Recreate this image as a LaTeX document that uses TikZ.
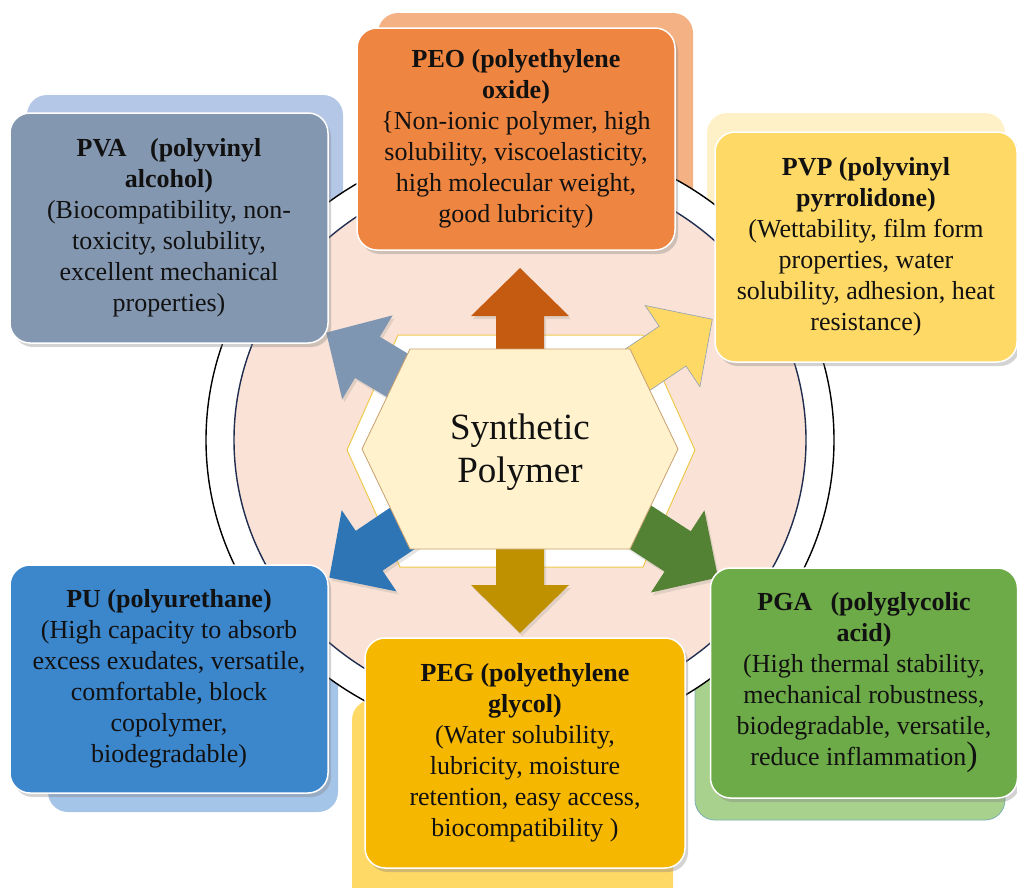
\documentclass[tikz,border=0pt]{standalone}
\usepackage{fontspec}
\setmainfont{Liberation Serif}
\usetikzlibrary{shadows}
\definecolor{bgpeach}{HTML}{FAE3D6}
\definecolor{ringline}{HTML}{1F2D4F}
\definecolor{hexin}{HTML}{FFF2CC}
\definecolor{hexinline}{HTML}{C8A070}
\definecolor{hexoutline}{HTML}{EFC94C}
\definecolor{pvaF}{HTML}{8497B0}
\definecolor{pvaB}{HTML}{B4C7E7}
\definecolor{peoF}{HTML}{EE8540}
\definecolor{peoB}{HTML}{F4B183}
\definecolor{pvpF}{HTML}{FFD966}
\definecolor{pvpB}{HTML}{FEF0C7}
\definecolor{puF}{HTML}{3C86CC}
\definecolor{puB}{HTML}{A4C4E8}
\definecolor{pegF}{HTML}{F5B700}
\definecolor{pegB}{HTML}{FFD966}
\definecolor{pgaF}{HTML}{6DAA48}
\definecolor{pgaB}{HTML}{A9D18E}
\definecolor{pgaBline}{HTML}{7AAFB0}
\definecolor{aPEO}{HTML}{C55A11}
\definecolor{aPVA}{HTML}{7F96B3}
\definecolor{aPVP}{HTML}{FFD966}
\definecolor{aPVPline}{HTML}{8DA0B5}
\definecolor{aPU}{HTML}{2E75B6}
\definecolor{aPEG}{HTML}{BF9000}
\definecolor{aPGA}{HTML}{548235}
\definecolor{txt}{HTML}{111111}
\newcommand\blockarrow[4]{%
  \fill[#1, #4, shift={(hexc)}, rotate=#2]
    (0,-24) -- ({#3-48},-24) -- ({#3-48},-49) -- (#3,0) -- ({#3-48},49) -- ({#3-48},24) -- (0,24) -- cycle;}
\tikzset{
  backbox/.style={rounded corners=20pt},
  frontbox/.style={rectangle, rounded corners=20pt, draw=white, line width=1.5pt,
    text=txt, align=center, inner sep=0pt,
    font=\fontsize{26}{31}\selectfont,
    drop shadow={shadow xshift=3pt, shadow yshift=-4pt, opacity=0.35}},
  arrowshadow/.style={drop shadow={shadow xshift=2pt, shadow yshift=-3pt, opacity=0.2}},
}
\begin{document}
\begin{tikzpicture}[x=1pt,y=-1pt]
\useasboundingbox (0,0) rectangle (1017,887);
\clip (0,0) rectangle (1017,887);
% back boxes
\fill[backbox, pvaB] (27,95) rectangle (343,320);
\fill[backbox, peoB] (378,13) rectangle (693,230);
\fill[backbox, pvpB] (707,113) rectangle (1005,340);
\fill[backbox, puB] (48,600) rectangle (338,812);
\fill[backbox, pegB] (352,700) rectangle (673,910);
\filldraw[backbox, fill=pgaB, draw=pgaBline, line width=0.8pt] (695,650) rectangle (1005,820);
% circles
\filldraw[fill=white, draw=black, line width=1.4pt] (520,440) ellipse [x radius=314pt, y radius=300pt];
\filldraw[fill=bgpeach, draw=ringline, line width=1.4pt] (520,440) ellipse [x radius=286pt, y radius=272pt];
% outer hexagon
\filldraw[fill=white, draw=hexoutline, line width=1pt] (347,450) -- (398,335) -- (643,335) -- (695,450) -- (643,567) -- (400,567) -- cycle;
% arrows
\coordinate (hexc) at (520,449);
\blockarrow{aPEO}{90}{181}{arrowshadow}
\blockarrow{aPEG}{270}{184}{arrowshadow}
\blockarrow{aPVA}{149}{226}{arrowshadow}
\blockarrow{aPU}{214}{230}{arrowshadow}
\blockarrow{aPGA}{327}{236}{arrowshadow}
\fill[aPVP, shift={(hexc)}, rotate=34] (0,-24) -- (184,-24) -- (184,-49) -- (232,0) -- (184,49) -- (184,24) -- (0,24) -- cycle;
\draw[aPVPline, line width=0.6pt, shift={(hexc)}, rotate=34] (120,-24) -- (184,-24) -- (184,-49) -- (232,0) -- (184,49) -- (184,24) -- (120,24);
% inner hexagon
\filldraw[fill=hexin, draw=hexinline, line width=0.8pt] (362,449) -- (410,349) -- (630,349) -- (678,449) -- (630,549) -- (410,549) -- cycle;
\node[text=txt, align=center, font=\fontsize{37}{43}\selectfont] (hex) at (520,452) {Synthetic\\Polymer};
% front boxes
\node[frontbox, fill=pvaF, minimum width=318pt, minimum height=230pt] (pva) at (169,228)
 {\textbf{PVA\hspace{0.9em}(polyvinyl}\\\textbf{alcohol)}\\(Biocompatibility, non-\\toxicity, solubility,\\excellent mechanical\\properties)};
\node[frontbox, fill=peoF, minimum width=318pt, minimum height=222pt] (peo) at (516,139)
 {\textbf{PEO (polyethylene}\\\textbf{oxide)}\\\{Non-ionic polymer, high\\solubility, viscoelasticity,\\high molecular weight,\\good lubricity)};
\node[frontbox, fill=pvpF, minimum width=302pt, minimum height=230pt] (pvp) at (866,247)
 {\textbf{PVP (polyvinyl}\\\textbf{pyrrolidone)}\\(Wettability, film form\\properties, water\\solubility, adhesion, heat\\resistance)};
\node[frontbox, fill=puF, minimum width=318pt, minimum height=228pt] (pu) at (169,679)
 {\textbf{PU (polyurethane)}\\(High capacity to absorb\\excess exudates, versatile,\\comfortable, block\\copolymer,\\biodegradable)};
\node[frontbox, fill=pegF, minimum width=320pt, minimum height=230pt] (peg) at (525,753)
 {\textbf{PEG (polyethylene}\\\textbf{glycol)}\\(Water solubility,\\lubricity, moisture\\retention, easy access,\\biocompatibility )};
\node[frontbox, fill=pgaF, minimum width=307pt, minimum height=230pt] (pga) at (864,683)
 {\textbf{PGA\hspace{0.7em}(polyglycolic}\\\textbf{acid)}\\(High thermal stability,\\mechanical robustness,\\biodegradable, versatile,\\reduce inflammation{\fontsize{34}{31}\selectfont )}};
\end{tikzpicture}
\end{document}
